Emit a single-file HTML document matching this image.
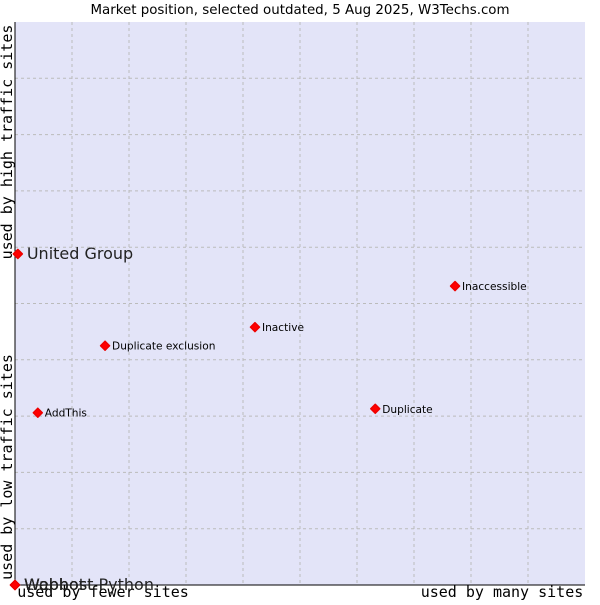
<!DOCTYPE html>
<html><head><meta charset="utf-8"><style>
body{margin:0;background:#fff;}
svg text{font-family:"DejaVu Sans","Liberation Sans",sans-serif;}
</style></head><body>
<svg id="chart" width="600" height="600" xmlns="http://www.w3.org/2000/svg">
<text x="300" y="14" text-anchor="middle" font-size="13.4" fill="#000">Market position, selected outdated, 5 Aug 2025, W3Techs.com</text>
<rect x="15" y="22" width="570" height="563" fill="#e3e4f8"/>
<g id="grid"></g>
<line x1="15" y1="22" x2="15" y2="585" stroke="#000"/>
<line x1="15" y1="585" x2="585" y2="585" stroke="#000"/>
<text x="12" y="142" transform="rotate(-90 12 142)" text-anchor="middle" font-size="15" style="font-family:'DejaVu Sans Mono','Liberation Mono',monospace">used by high traffic sites</text>
<text x="12" y="467" transform="rotate(-90 12 467)" text-anchor="middle" font-size="15" style="font-family:'DejaVu Sans Mono','Liberation Mono',monospace">used by low traffic sites</text>
<text x="103" y="597" text-anchor="middle" font-size="15" style="font-family:'DejaVu Sans Mono','Liberation Mono',monospace">used by fewer sites</text>
<text x="502" y="597" text-anchor="middle" font-size="15" style="font-family:'DejaVu Sans Mono','Liberation Mono',monospace">used by many sites</text>
<g id="points"></g>
</svg>
<script>
const names=["United Group","Inaccessible","Inactive","Duplicate exclusion","AddThis","Duplicate","Webhost Python","Webhost","Wapbot"];
const usage=[0.5,77.2,42.1,15.8,4.0,63.2,0,0,0];
const traffic=[58.8,53.1,45.8,42.5,30.6,31.3,0,0,0];
const big=[true,false,false,false,false,false,true,true,true];
const NS="http://www.w3.org/2000/svg";
const X0=15,X1=585,Y0=585,Y1=22;
function sx(v){return X0+v/100*(X1-X0);}
function sy(v){return Y0-v/100*(Y0-Y1);}
const grid=document.getElementById('grid');
for(let i=1;i<10;i++){
 const l=document.createElementNS(NS,'line');
 
 
 l.setAttribute('x1',sx(i*10));l.setAttribute('x2',sx(i*10));l.setAttribute('y1',Y1);l.setAttribute('y2',Y0);
 l.setAttribute('stroke','#bbb');l.setAttribute('stroke-dasharray','3,3');grid.appendChild(l);
 const h=document.createElementNS(NS,'line');
 
 
 h.setAttribute('y1',sy(i*10));h.setAttribute('y2',sy(i*10));h.setAttribute('x1',X0);h.setAttribute('x2',X1);
 h.setAttribute('stroke','#bbb');h.setAttribute('stroke-dasharray','3,3');grid.appendChild(h);
}
const pts=document.getElementById('points');
names.forEach((n,i)=>{
 const x=sx(usage[i]),y=sy(traffic[i]);
 const d=document.createElementNS(NS,'path');
 
 
 d.setAttribute('d',`M${x} ${y-4.5}L${x+4.5} ${y}L${x} ${y+4.5}L${x-4.5} ${y}Z`);
 d.setAttribute('fill','#f00');d.setAttribute('stroke','#e00');d.setAttribute('stroke-width','1.5');d.setAttribute('stroke-linejoin','round');
 pts.appendChild(d);
 const t=document.createElementNS(NS,'text');
 
 
 t.setAttribute('x',x+(big[i]?9:7));t.setAttribute('y',y+(big[i]?5:4));
 t.setAttribute('font-size',big[i]?'16':'10.6');t.setAttribute('fill',big[i]?'#222':'#000');
 t.textContent=n;pts.appendChild(t);
});
</script>
</body></html>
